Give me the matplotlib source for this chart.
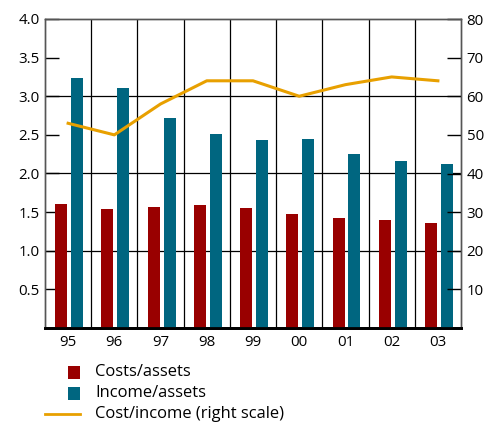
import matplotlib.pyplot as plt
import numpy as np
from matplotlib.patches import Rectangle
from matplotlib.lines import Line2D

plt.rcParams['font.family'] = ['Open Sans', 'DejaVu Sans']

years = ['95', '96', '97', '98', '99', '00', '01', '02', '03']
costs_assets = [1.61, 1.54, 1.57, 1.59, 1.55, 1.48, 1.42, 1.40, 1.36]
income_assets = [3.24, 3.11, 2.72, 2.51, 2.43, 2.45, 2.25, 2.16, 2.12]
cost_income = [53, 50, 58, 64, 64, 60, 63, 65, 64]

red = '#990000'
teal = '#006680'
orange = '#E8A000'

W, H = 488, 423
fig = plt.figure(figsize=(W / 100, H / 100), dpi=100)
ax = fig.add_axes([45 / W, 1 - 328 / H, 416 / W, 309 / H])
ax2 = ax.twinx()

x = np.arange(len(years))
w = 0.26
ax.bar(x - 0.15, costs_assets, width=w, color=red, zorder=3)
ax.bar(x + 0.195, income_assets, width=w, color=teal, zorder=3)

ax.set_xlim(-0.5, len(years) - 0.5)
ax.set_ylim(0, 4.0)
ax.set_xticks(x)
ax.set_xticklabels(years)
ax.tick_params(axis='x', length=0, labelsize=10.8, pad=5)

yt = np.arange(0.5, 4.01, 0.5)
ax.set_yticks(yt)
ax.set_yticklabels([f'{v:.1f}' for v in yt])
ax.tick_params(axis='y', direction='in', length=10, width=1, labelsize=10.8, pad=4)

# grid: category boundaries and whole-number levels
for b in np.arange(0.5, len(years) - 0.5, 1):
    ax.axvline(b, color='black', lw=0.9, zorder=2)
for v in [1.0, 2.0, 3.0]:
    ax.axhline(v, color='black', lw=0.9, zorder=2)

ax2.plot(x, cost_income, color=orange, lw=2.2, zorder=4)
ax2.set_ylim(0, 80)
ax2.set_yticks(np.arange(10, 81, 10))
ax2.tick_params(axis='y', direction='in', length=10, width=1, labelsize=10.8, pad=4)

for a in (ax, ax2):
    for s in ['left', 'right', 'top']:
        a.spines[s].set_color('#555555')
        a.spines[s].set_linewidth(1)
    a.spines['bottom'].set_color('black')
    a.spines['bottom'].set_linewidth(2)

# legend below the plot, drawn in figure pixels
rows = [372, 393, 414]
labels = ['Costs/assets', 'Income/assets', 'Cost/income (right scale)']
for yy, c in zip(rows[:2], [red, teal]):
    fig.add_artist(Rectangle((68 / W, 1 - (yy + 6.5) / H), 12 / W, 13 / H,
                             transform=fig.transFigure, color=c, lw=0))
fig.add_artist(Line2D([45 / W, 80 / W], [1 - rows[2] / H] * 2,
                      transform=fig.transFigure, color=orange, lw=2))
for yy, t in zip(rows, labels):
    fig.text(95 / W, 1 - yy / H, t, fontsize=11.9, va='center', ha='left')

fig.savefig('out.png', dpi=100)
